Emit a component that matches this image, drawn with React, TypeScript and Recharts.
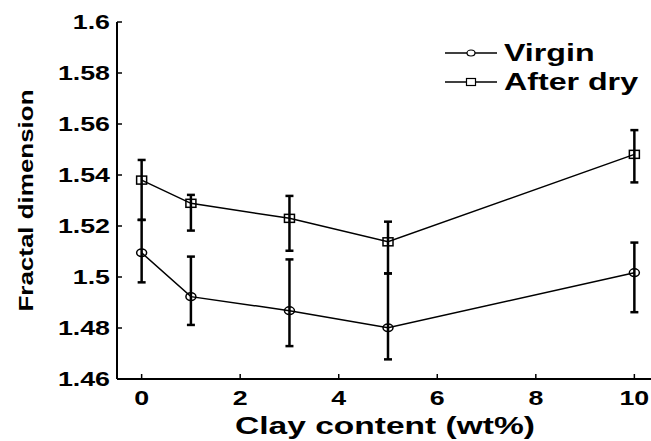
import React from 'react';
import { LineChart, Line, XAxis, YAxis, ErrorBar, Legend, Label } from 'recharts';

// Clay content (wt%)
const clayContent = [0, 1, 3, 5, 10];
// Virgin series: mean and observed error-bar bounds
const virgin = [1.5095, 1.4923, 1.4868, 1.4801, 1.5017];
const virginLow = [1.4979, 1.4812, 1.4729, 1.4677, 1.4862];
const virginHigh = [1.5224, 1.508, 1.5069, 1.5014, 1.5135];
// After dry series: mean and observed error-bar bounds
const afterDry = [1.538, 1.5289, 1.523, 1.5138, 1.5481];
const afterDryLow = [1.5224, 1.5182, 1.5103, 1.5014, 1.5371];
const afterDryHigh = [1.5459, 1.5322, 1.5318, 1.5217, 1.5576];

const xTicks = [0, 2, 4, 6, 8, 10];
const yTicks = [1.46, 1.48, 1.5, 1.52, 1.54, 1.56, 1.58, 1.6];

const FONT = '"Liberation Sans", Arial, Helvetica, sans-serif';
const SX = 1.34;

const data = clayContent.map((x, i) => ({
  x,
  virgin: virgin[i],
  afterDry: afterDry[i],
  virginErr: [virgin[i] - virginLow[i], virginHigh[i] - virgin[i]],
  afterDryErr: [afterDry[i] - afterDryLow[i], afterDryHigh[i] - afterDry[i]],
}));

const YTick = (props: any) => {
  const { x, y, payload } = props;
  return (
    <g transform={`translate(${x},${y})`}>
      <text transform={`scale(${SX},1)`} x={0} y={0} dy={7} textAnchor="end" fontFamily={FONT} fontWeight="bold" fontSize={20} fill="#000">
        {String(payload.value)}
      </text>
    </g>
  );
};

const XTick = (props: any) => {
  const { x, y, payload } = props;
  return (
    <g transform={`translate(${x},${y})`}>
      <text transform={`scale(${SX},1)`} x={0} y={0} dy={14.5} textAnchor="middle" fontFamily={FONT} fontWeight="bold" fontSize={20} fill="#000">
        {String(payload.value)}
      </text>
    </g>
  );
};

const YLabel = (props: any) => {
  const vb = props.viewBox || { x: 0, y: 22, width: 117, height: 357 };
  const cx = vb.x + 33;
  const cy = vb.y + vb.height / 2;
  return (
    <text x={cx} y={cy} transform={`rotate(-90, ${cx}, ${cy})`} textAnchor="middle" textLength={222} lengthAdjust="spacingAndGlyphs" fontFamily={FONT} fontWeight="bold" fontSize={21} fill="#000">
      Fractal dimension
    </text>
  );
};

const XLabel = (props: any) => {
  const vb = props.viewBox || { x: 117, y: 379, width: 542, height: 62 };
  const cx = vb.x + vb.width / 2 - 3;
  const cy = vb.y + 55;
  return (
    <text x={cx} y={cy} textAnchor="middle" textLength={300} lengthAdjust="spacingAndGlyphs" fontFamily={FONT} fontWeight="bold" fontSize={24} fill="#000">
      Clay content (wt%)
    </text>
  );
};

const CircleDot = (props: any) => {
  const { cx, cy, index } = props;
  if (cx == null || cy == null) return <g key={`c-${index}`} />;
  return <ellipse key={`c-${index}`} cx={cx} cy={cy} rx={5} ry={3.8} fill="none" stroke="#000" strokeWidth={1.5} />;
};

const SquareDot = (props: any) => {
  const { cx, cy, index } = props;
  if (cx == null || cy == null) return <g key={`s-${index}`} />;
  return <rect key={`s-${index}`} x={cx - 5} y={cy - 4} width={10} height={8} fill="none" stroke="#000" strokeWidth={1.5} />;
};

const legendItems = [
  { name: 'Virgin', shape: 'circle' },
  { name: 'After dry', shape: 'square' },
];

const LegendContent = () => (
  <div>
    {legendItems.map((it) => (
      <div key={it.name} style={{ display: 'flex', alignItems: 'center', height: 29 }}>
        <svg width={52} height={20} style={{ display: 'block' }}>
          <line x1={0} y1={10} x2={52} y2={10} stroke="#000" strokeWidth={1.5} />
          {it.shape === 'circle' ? (
            <ellipse cx={26} cy={10} rx={4} ry={3} fill="#fff" stroke="#000" strokeWidth={1.2} />
          ) : (
            <rect x={21.5} y={6.5} width={9} height={7} fill="#fff" stroke="#000" strokeWidth={1.2} />
          )}
        </svg>
        <span
          style={{
            marginLeft: 7,
            fontFamily: FONT,
            fontWeight: 'bold',
            fontSize: 24,
            lineHeight: '29px',
            display: 'inline-block',
            whiteSpace: 'nowrap',
            transform: `scaleX(${SX})`,
            transformOrigin: 'left center',
            color: '#000',
          }}
        >
          {it.name}
        </span>
      </div>
    ))}
  </div>
);

export default function App() {
  return (
    <div style={{ position: 'absolute', left: 0, top: 0, width: 651, height: 441, overflow: 'hidden', background: '#fff' }}>
      <LineChart width={680} height={441} data={data} margin={{ top: 22, right: 21, left: 0, bottom: 0 }}>
        <XAxis
          dataKey="x"
          type="number"
          domain={[-0.5, 10.5]}
          ticks={xTicks}
          allowDataOverflow
          height={62}
          tickSize={-5}
          tickMargin={16}
          tick={<XTick />}
          axisLine={{ stroke: '#000', strokeWidth: 2 }}
          tickLine={{ stroke: '#000', strokeWidth: 1.5 }}
        >
          <Label content={<XLabel />} />
        </XAxis>
        <XAxis
          xAxisId="top"
          orientation="top"
          dataKey="x"
          type="number"
          domain={[-0.5, 10.5]}
          ticks={xTicks}
          allowDataOverflow
          height={0}
          tickSize={-5}
          tick={false}
          axisLine={{ stroke: '#000', strokeWidth: 2 }}
          tickLine={{ stroke: '#000', strokeWidth: 1.5 }}
        />
        <YAxis
          type="number"
          domain={[1.46, 1.6]}
          ticks={yTicks}
          allowDataOverflow
          width={117}
          tickSize={-5}
          tickMargin={12}
          tick={<YTick />}
          axisLine={{ stroke: '#000', strokeWidth: 2 }}
          tickLine={{ stroke: '#000', strokeWidth: 1.5 }}
        >
          <Label content={<YLabel />} />
        </YAxis>
        <Legend
          layout="vertical"
          align="center"
          verticalAlign="middle"
          content={<LegendContent />}
          wrapperStyle={{ position: 'absolute', left: 445, top: 38, width: 'auto', height: 'auto' }}
        />
        <Line
          type="linear"
          dataKey="virgin"
          name="Virgin"
          stroke="#000"
          strokeWidth={1.5}
          dot={CircleDot}
          activeDot={false}
          isAnimationActive={false}
        >
          <ErrorBar dataKey="virginErr" direction="y" width={4} stroke="#000" strokeWidth={2.5} isAnimationActive={false} />
        </Line>
        <Line
          type="linear"
          dataKey="afterDry"
          name="After dry"
          stroke="#000"
          strokeWidth={1.5}
          dot={SquareDot}
          activeDot={false}
          isAnimationActive={false}
        >
          <ErrorBar dataKey="afterDryErr" direction="y" width={4} stroke="#000" strokeWidth={2.5} isAnimationActive={false} />
        </Line>
      </LineChart>
    </div>
  );
}
